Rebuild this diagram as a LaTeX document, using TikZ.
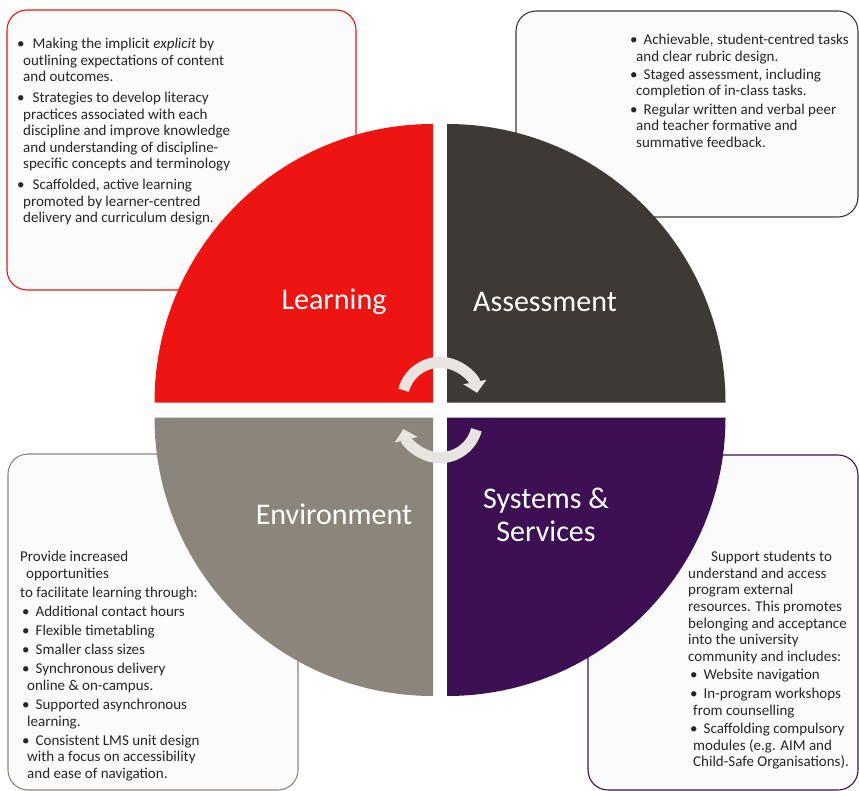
\documentclass[tikz,border=0pt]{standalone}
\usepackage{fontspec}
\setmainfont{Carlito}
\usetikzlibrary{arrows.meta}
\definecolor{lred}{HTML}{EE1411}
\definecolor{ldark}{HTML}{3D3935}
\definecolor{lgrey}{HTML}{8C857B}
\definecolor{lpurple}{HTML}{3C1053}
\definecolor{boxfill}{HTML}{FBFBFB}
\definecolor{txtcol}{HTML}{262626}
\definecolor{arwcol}{HTML}{E8E5E0}

\begin{document}
\begin{tikzpicture}[x=1pt,y=1pt,
    box/.style = {shape=rectangle, draw, rounded corners=20pt,
    line width=1.1pt, fill=boxfill},
    txt/.style = {anchor=north west, inner sep=0pt, align=left,
    text=txtcol, font=\fontsize{15}{16.6}\selectfont},
    lbl/.style = {text=white, align=center,
    font=\fontsize{30}{33}\selectfont},
    arw/.style = {draw=arwcol, line width=11pt,
    -{Triangle[length=11pt,width=23pt]}},
    cred/.style={fill=lred},
    cdark/.style={fill=ldark},
    cgrey/.style={fill=lgrey},
    cpurple/.style={fill=lpurple}]
    \useasboundingbox (0,0) rectangle (859,-791);
    % boxes
    \node[box, draw=lred, minimum width=349, minimum height=280] (b1) at (181.5,-150) {};
    \node[box, draw=ldark, minimum width=342, minimum height=206] (b2) at (687,-114) {};
    \node[box, draw=lgrey, minimum width=290, minimum height=336] (b3) at (153,-622) {};
    \node[box, draw=lpurple, minimum width=270, minimum height=335] (b4) at (723,-622.5) {};
    \node[txt] (t1) at (17,-38) {\textbullet\hspace{8pt}Making the implicit \textit{explicit} by\\
        \hspace{6pt}outlining expectations of content\\
        \hspace{6pt}and outcomes.\\[4pt]
        \textbullet\hspace{8pt}Strategies to develop literacy\\
        \hspace{6pt}practices associated with each\\
        \hspace{6pt}discipline and improve knowledge\\
        \hspace{6pt}and understanding of discipline-\\
        \hspace{6pt}specific concepts and terminology\\[4pt]
        \textbullet\hspace{8pt}Scaffolded, active learning\\
        \hspace{6pt}promoted by learner-centred\\
        \hspace{6pt}delivery and curriculum design.};
    \node[txt] (t2) at (630,-34) {\textbullet\hspace{6pt}Achievable, student-centred tasks\\
        \hspace{6pt}and clear rubric design.\\[1.5pt]
        \textbullet\hspace{6pt}Staged assessment, including\\
        \hspace{6pt}completion of in-class tasks.\\[1.5pt]
        \textbullet\hspace{6pt}Regular written and verbal peer\\
        \hspace{6pt}and teacher formative and\\
        \hspace{6pt}summative feedback.};
    \node[txt] (t3) at (20,-551) {Provide increased\\
        \hspace{6pt}opportunities\\[2.5pt]
        to facilitate learning through:\\[2.5pt]
        \hspace{2pt}\textbullet\hspace{6pt}Additional contact hours\\[2.5pt]
        \hspace{2pt}\textbullet\hspace{6pt}Flexible timetabling\\[2.5pt]
        \hspace{2pt}\textbullet\hspace{6pt}Smaller class sizes\\[2.5pt]
        \hspace{2pt}\textbullet\hspace{6pt}Synchronous delivery\\
        \hspace{7pt}online \& on-campus.\\[2.5pt]
        \hspace{2pt}\textbullet\hspace{6pt}Supported asynchronous\\
        \hspace{7pt}learning.\\[2.5pt]
        \hspace{2pt}\textbullet\hspace{6pt}Consistent LMS unit design\\
        \hspace{7pt}with a focus on accessibility\\
        \hspace{7pt}and ease of navigation.};
    \node[txt] (t4) at (688,-551) {\hspace{23pt}Support students to\\
        understand and access\\
        program external\\
        resources. This promotes\\
        belonging and acceptance\\
        into the university\\
        community and includes:\\[2pt]
        \hspace{2pt}\textbullet\hspace{6pt}Website navigation\\[2pt]
        \hspace{2pt}\textbullet\hspace{6pt}In-program workshops\\
        \hspace{5pt}from counselling\\[2pt]
        \hspace{2pt}\textbullet\hspace{6pt}Scaffolding compulsory\\
        \hspace{5pt}modules (e.g. AIM and\\
        \hspace{5pt}Child-Safe Organisations).};
    % quadrants
    \fill[cred] (433,-402.5) -- ++(-278.5,0) arc[start angle=180, end angle=90, radius=278.5] -- cycle;
    \fill[cdark] (447,-402.5) -- ++(0,278.5) arc[start angle=90, end angle=0, radius=278.5] -- cycle;
    \fill[cgrey] (433,-417.5) -- ++(0,-278.5) arc[start angle=270, end angle=180, radius=278.5] -- cycle;
    \fill[cpurple] (447,-417.5) -- ++(278.5,0) arc[start angle=0, end angle=-90, radius=278.5] -- cycle;
    % cycle arrows
    \draw[arw] (440,-400) ++(165:37.7) arc[start angle=165, end angle=11, radius=37.7];
    \draw[arw] (440,-420) ++(-15:37.7) arc[start angle=-15, end angle=-166, radius=37.7];
    \node[lbl] (q1) at (334,-302) {Learning};
    \node[lbl] (q2) at (545,-302) {Assessment};
    \node[lbl] (q3) at (334,-514) {Environment};
    \node[lbl] (q4) at (546,-515) {Systems \&\\ Services};
\end{tikzpicture}
\end{document}
